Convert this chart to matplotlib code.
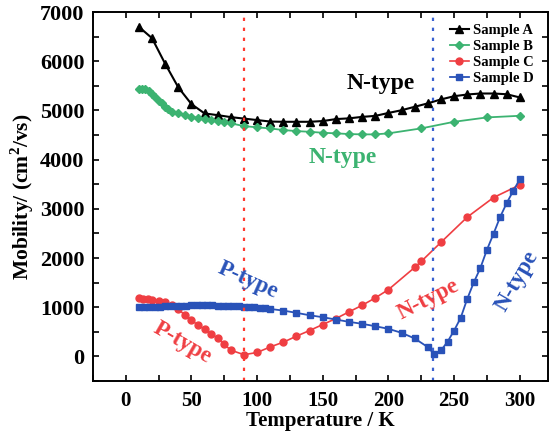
import matplotlib
matplotlib.use("Agg")
import matplotlib.pyplot as plt
from matplotlib.ticker import MultipleLocator

plt.rcParams['font.family'] = ['Liberation Serif', 'DejaVu Serif']
plt.rcParams['font.weight'] = 'bold'
plt.rcParams['mathtext.fontset'] = 'custom'
plt.rcParams['mathtext.rm'] = 'Liberation Serif:bold'

# ---- data ----
T_A = [10, 20, 30, 40, 50, 60, 70, 80, 90, 100,
       110, 120, 130, 140, 150, 160, 170, 180, 190, 200,
       210, 220, 230, 240, 250, 260, 270, 280, 290, 300]
mob_A = [6700, 6470, 5950, 5470, 5130, 4940, 4905, 4865, 4835, 4805,
         4775, 4770, 4770, 4770, 4785, 4825, 4840, 4870, 4890, 4950,
         5005, 5075, 5145, 5225, 5290, 5325, 5345, 5345, 5330, 5265]

T_B = [10, 12.5, 15, 17.5, 20, 22.5, 25, 27.5, 30, 32.5, 35,
       40, 45, 50, 55, 60, 65, 70, 75, 80,
       90, 100, 110, 120, 130, 140, 150, 160, 170, 180, 190, 200,
       225, 250, 275, 300]
mob_B = [5427, 5427, 5427, 5398, 5331, 5264, 5195, 5143, 5074, 5021, 4973,
         4940, 4906, 4872, 4852, 4832, 4805, 4784, 4758, 4738,
         4683, 4657, 4635, 4602, 4581, 4567, 4547, 4535, 4521, 4514, 4514, 4535,
         4636, 4770, 4859, 4892]

T_C = [10, 13, 17, 20, 25, 30, 35, 40, 45, 50, 55, 60, 65, 70, 75, 80,
       90, 100, 110, 120, 130, 140, 150, 160, 170, 180, 190, 200,
       220, 225, 240, 260, 280, 300]
mob_C = [1185, 1173, 1165, 1155, 1132, 1100, 1037, 963, 840, 743, 632, 555, 446, 380, 243, 128,
         35, 80, 193, 290, 412, 527, 649, 770, 906, 1040, 1190, 1358,
         1810, 1932, 2320, 2832, 3230, 3487]

T_D = [10, 14, 18, 22, 26, 30, 34, 38, 42, 46, 50, 54, 58, 62, 66, 70, 74, 78, 82, 86,
       90, 94, 98, 102, 106, 110,
       120, 130, 140, 150, 160, 170, 180, 190, 200, 210, 220, 230,
       235, 240, 245, 250, 255, 260, 265, 270, 275, 280, 285, 290, 295, 300]
mob_D = [1000, 1002, 1005, 1010, 1014, 1018, 1022, 1027, 1031, 1035, 1038, 1040, 1040, 1040,
         1038, 1035, 1031, 1027, 1022, 1016, 1010, 1003, 995, 986, 976, 965,
         932, 886, 837, 797, 750, 703, 663, 614, 561, 480, 365, 189,
         40, 122, 298, 527, 784, 1170, 1506, 1798, 2169, 2493, 2832, 3116, 3365, 3602]

labels = ["Sample A", "Sample B", "Sample C", "Sample D"]
colors = ["#000000", "#3cb371", "#ef3e42", "#2952b8"]

T_red_line = 90
T_blue_line = 234

# ---- figure ----
fig = plt.figure(figsize=(5.53, 4.32), dpi=100)
ax = fig.add_axes([0.168, 0.118, 0.823, 0.854])

ax.plot(T_A, mob_A, '-^', color=colors[0], lw=1.5, ms=6, label=labels[0])
ax.plot(T_B, mob_B, '-D', color=colors[1], lw=1.3, ms=4.5, label=labels[1])
ax.plot(T_C, mob_C, '-o', color=colors[2], lw=1.2, ms=5, label=labels[2])
ax.plot(T_D, mob_D, '-s', color=colors[3], lw=1.3, ms=4.5, label=labels[3])

ax.axvline(T_red_line, color='#ff3b30', lw=1.6, ls=(0, (1.5, 3)))
ax.axvline(T_blue_line, color='#3b63d0', lw=1.6, ls=(0, (1.5, 3)))

ax.set_xlim(-25, 321.5)
ax.set_ylim(-500, 7000)
ax.xaxis.set_major_locator(MultipleLocator(50))
ax.xaxis.set_minor_locator(MultipleLocator(25))
ax.yaxis.set_major_locator(MultipleLocator(1000))
ax.yaxis.set_minor_locator(MultipleLocator(500))
ax.tick_params(which='both', direction='in', top=True, right=True, length=4, width=1.2)
ax.tick_params(axis='x', labelsize=15, pad=7)
ax.tick_params(axis='y', labelsize=16, pad=6)
for lab in ax.get_xticklabels() + ax.get_yticklabels():
    lab.set_fontweight('bold')
for s in ax.spines.values():
    s.set_linewidth(1.4)

ax.set_xlabel("Temperature / K", fontsize=15, fontweight='bold', labelpad=0.5)
ax.set_ylabel(r"Mobility/ (cm$^2$/vs)", fontsize=15.5, fontweight='bold', labelpad=3)

leg = ax.legend(loc='upper right', bbox_to_anchor=(0.995, 1.0), frameon=False,
                prop={'family': 'Liberation Serif', 'weight': 'bold', 'size': 10.5},
                handlelength=1.3, handletextpad=0.3, labelspacing=0.2, borderpad=0.3)

# annotations
ax.text(194, 5555, "N-type", color='black', fontsize=17, fontweight='bold',
        ha='center', va='center')
ax.text(165, 4034, "N-type", color=colors[1], fontsize=17, fontweight='bold',
        ha='center', va='center')
ax.text(93, 1540, "P-type", color=colors[3], fontsize=16.5, fontweight='bold',
        ha='center', va='center', rotation=-24)
ax.text(43.5, 284, "P-type", color=colors[2], fontsize=16.5, fontweight='bold',
        ha='center', va='center', rotation=-30)
ax.text(230, 1155, "N-type", color=colors[2], fontsize=16.5, fontweight='bold',
        ha='center', va='center', rotation=27)
ax.text(297.7, 1540, "N-type", color=colors[3], fontsize=16.5, fontweight='bold',
        ha='center', va='center', rotation=60)

fig.savefig("out.png", dpi=100)
